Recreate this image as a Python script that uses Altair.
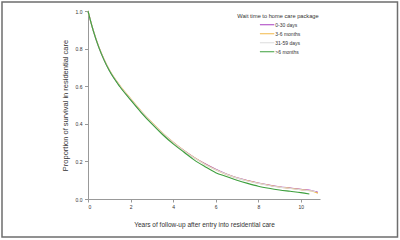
import altair as alt
import pandas as pd

# Years of follow-up
t_all = [0, 0.1, 0.25, 0.5, 0.75, 1, 1.5, 2, 2.5, 3, 3.5, 4, 4.5, 5, 5.5, 6,
         6.5, 7, 7.5, 8, 8.5, 9, 9.5, 10, 10.5, 10.8]
t_gray = t_all[:-1] + [10.7]
t_green = t_all[:-2] + [10.4]

s_purple = [1.0, 0.955, 0.895, 0.81, 0.742, 0.685, 0.60, 0.53, 0.464, 0.404, 0.349,
            0.301, 0.258, 0.220, 0.187, 0.158, 0.133, 0.113, 0.098, 0.085,
            0.074, 0.065, 0.058, 0.051, 0.045, 0.036]
s_orange = [1.0, 0.955, 0.896, 0.812, 0.744, 0.688, 0.603, 0.534, 0.468, 0.407, 0.351,
            0.302, 0.258, 0.219, 0.185, 0.156, 0.131, 0.112, 0.097, 0.084,
            0.073, 0.064, 0.057, 0.050, 0.043, 0.031]
s_gray = [1.0, 0.955, 0.895, 0.81, 0.742, 0.686, 0.601, 0.532, 0.466, 0.405, 0.35,
          0.301, 0.257, 0.218, 0.184, 0.155, 0.131, 0.111, 0.096, 0.083,
          0.072, 0.063, 0.056, 0.049, 0.043, 0.039]
s_green = [1.0, 0.955, 0.894, 0.809, 0.740, 0.683, 0.597, 0.527, 0.460, 0.399, 0.343,
           0.293, 0.250, 0.207, 0.172, 0.140, 0.120, 0.100, 0.083, 0.068,
           0.057, 0.048, 0.041, 0.034, 0.027]

groups = ["0-30 days", "3-6 months", "31-59 days", ">6 months"]
colors = ["#a83cc0", "#f2b848", "#dcdcdc", "#3d9f3d"]
x_ticks = [0, 2, 4, 6, 8, 10]
y_ticks = [0.0, 0.2, 0.4, 0.6, 0.8, 1.0]

rows = []
for g, ts, ss in [(groups[0], t_all, s_purple), (groups[1], t_all, s_orange),
                  (groups[2], t_gray, s_gray), (groups[3], t_green, s_green)]:
    for t, s in zip(ts, ss):
        rows.append({"t": t, "S": s, "group": g, "ord": groups.index(g)})
df = pd.DataFrame(rows)

FONT = "Liberation Sans, Arial, sans-serif"

lines = alt.Chart(df).mark_line(strokeWidth=1.1, interpolate="monotone").encode(
    x=alt.X("t:Q", scale=alt.Scale(domain=[0, 10.9], nice=False),
            axis=alt.Axis(values=x_ticks, format="d", tickSize=3, labelPadding=2.5,
                          labelFontSize=5, labelFont=FONT, labelColor="#333",
                          domainColor="#999", tickColor="#999", grid=False,
                          title="Years of follow-up after entry into residential care",
                          titleFont=FONT, titleFontSize=6.5, titleFontWeight="normal",
                          titleColor="#333", titleBaseline="alphabetic", titleY=27.5)),
    y=alt.Y("S:Q", scale=alt.Scale(domain=[0, 1], nice=False),
            axis=alt.Axis(values=y_ticks, format=".1f", tickSize=3.5, labelPadding=2.5,
                          labelFontSize=5, labelFont=FONT, labelColor="#333",
                          domainColor="#999", tickColor="#999", grid=False,
                          title="Proportion of survival in residential care",
                          titleFont=FONT, titleFontSize=7.5, titleFontWeight="normal",
                          titleColor="#333", titleBaseline="alphabetic", titleX=-20.5)),
    color=alt.Color("group:N", sort=groups,
                    scale=alt.Scale(domain=groups, range=colors),
                    legend=alt.Legend(orient="none", legendX=149.3, legendY=1.5,
                                      title="Wait time to home care package",
                                      titleFont=FONT, titleFontSize=5.7,
                                      titleFontWeight="normal", titleColor="#333",
                                      titlePadding=2, padding=0,
                                      labelFont=FONT, labelFontSize=5, labelColor="#333",
                                      symbolType="M0.2,0H1", symbolSize=1296,
                                      symbolStrokeWidth=1.1, clipHeight=9, rowPadding=0,
                                      labelOffset=0)),
    order=alt.Order("ord:Q"),
    detail="group:N",
)

frame = alt.Chart(pd.DataFrame({"a": [0]})).mark_rect(
    fillOpacity=0, stroke="#6e6e6e", strokeWidth=1.5
).encode(x=alt.value(-86), x2=alt.value(309.5), y=alt.value(-9), y2=alt.value(226))

chart = alt.layer(lines, frame).properties(
    width=232, height=188,
    autosize=alt.AutoSizeParams(type="none"),
    padding={"left": 88, "top": 11, "right": 80, "bottom": 41},
    background="white",
).configure_view(stroke=None)

chart.save("out.html", embed_options={"renderer": "svg", "actions": False})
